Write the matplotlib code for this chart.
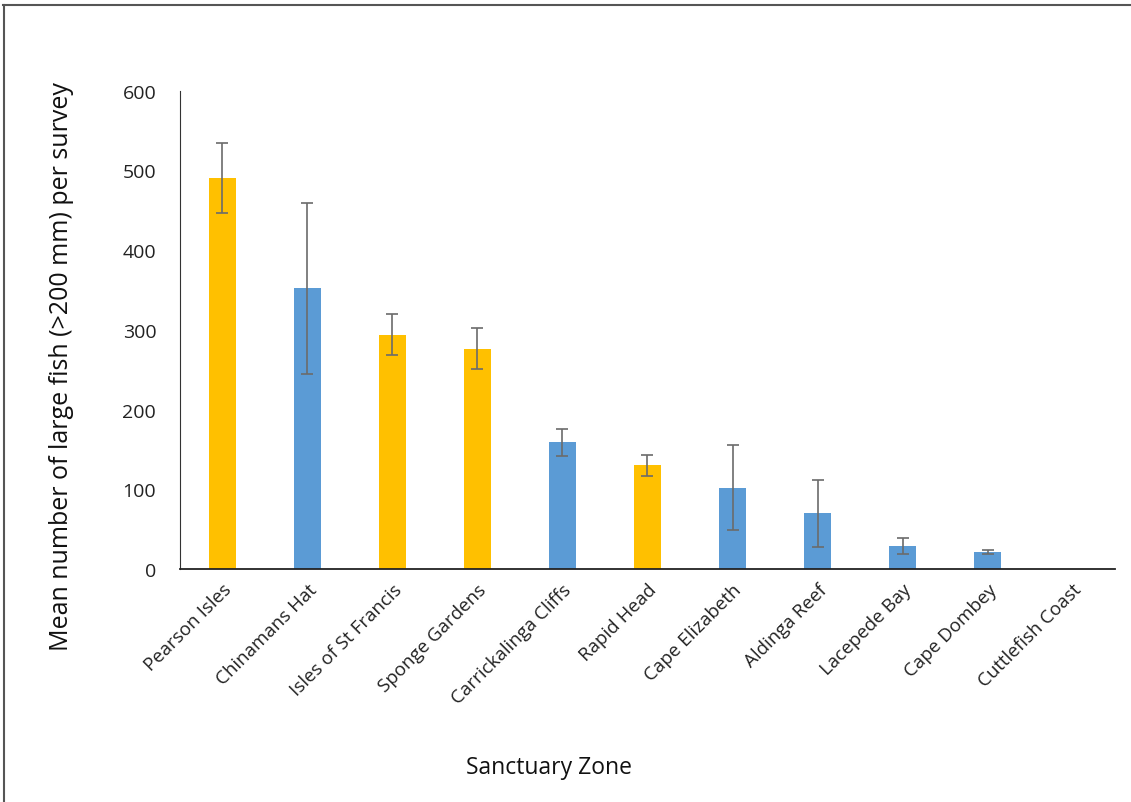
import matplotlib
matplotlib.use("Agg")
import matplotlib.pyplot as plt
from matplotlib.lines import Line2D

plt.rcParams['font.family'] = ['Open Sans', 'DejaVu Sans']

zones = ["Pearson Isles", "Chinamans Hat", "Isles of St Francis", "Sponge Gardens",
         "Carrickalinga Cliffs", "Rapid Head", "Cape Elizabeth", "Aldinga Reef",
         "Lacepede Bay", "Cape Dombey", "Cuttlefish Coast"]
means = [490, 352, 294, 276, 159, 130, 102, 70, 29, 22, 0]
errors = [44, 107, 25.5, 25.7, 17, 13.5, 53.5, 42, 10.5, 2.5, 0]
groups = ["o", "b", "o", "o", "b", "o", "b", "b", "b", "b", "b"]
yticks = [0, 100, 200, 300, 400, 500, 600]

palette = {"o": "#FFC000", "b": "#5B9BD5"}
colors = [palette[g] for g in groups]

fig = plt.figure(figsize=(11.31, 8.03), dpi=100)
ax = fig.add_axes([0.159, 0.290, 0.827, 0.596])

x = list(range(len(zones)))
ax.bar(x, means, width=0.31, color=colors, zorder=2)
ax.errorbar([xi for xi, e in zip(x, errors) if e > 0],
            [m for m, e in zip(means, errors) if e > 0],
            yerr=[e for e in errors if e > 0], fmt='none',
            ecolor='#6b6b6b', elinewidth=1.2, capsize=4, capthick=1.2, zorder=3)

ax.set_xlim(-0.5, len(zones) - 0.5)
ax.set_ylim(0, 600)
ax.set_yticks(yticks)
ax.set_yticklabels([str(v) for v in yticks], fontsize=14, color='#222222')
ax.tick_params(axis='y', length=0, pad=17)
ax.tick_params(axis='x', length=0, pad=8)
ax.set_xticks(x)
ax.set_xticklabels(zones, rotation=45, ha='right', rotation_mode='anchor',
                   fontsize=13.5, color='#222222')
for s in ['top', 'right']:
    ax.spines[s].set_visible(False)
ax.spines['left'].set_color('#333333')
ax.spines['bottom'].set_color('#222222')
ax.spines['bottom'].set_linewidth(1.3)

ax.set_ylabel("Mean number of large fish (>200 mm) per survey", fontsize=18,
              color='#111111')
ax.yaxis.set_label_coords(-0.113, 0.425)
fig.text(0.485, 0.044, "Sanctuary Zone", ha='center', va='center', fontsize=16.5,
         color='#111111')

# figure frame (top and left edges)
fig.add_artist(Line2D([0.003, 1.0], [0.992, 0.992], transform=fig.transFigure,
                      color='#555555', linewidth=1.5))
fig.add_artist(Line2D([0.0035, 0.0035], [0.0, 0.992], transform=fig.transFigure,
                      color='#555555', linewidth=1.5))

fig.savefig("out.png", dpi=100)
